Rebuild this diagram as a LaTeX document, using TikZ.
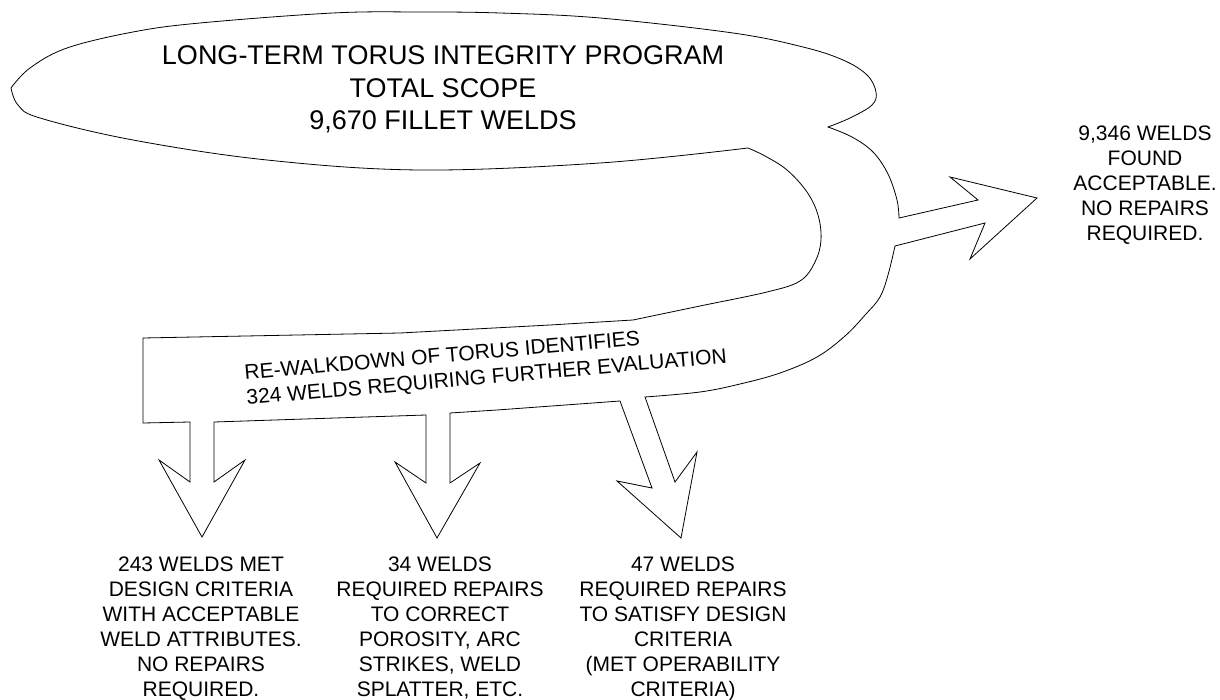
\documentclass[tikz,border=0pt]{standalone}
\usepackage{fontspec}
\setmainfont{Liberation Sans}
\begin{document}
\begin{tikzpicture}[x=1pt,y=-1pt,
  outline/.style={draw=black,line width=0.8pt,line join=miter},
  lbl/.style={align=center,anchor=north,inner sep=0pt,font=\fontsize{21}{25}\selectfont},
  bandtxt/.style={anchor=base west,inner sep=0pt,rotate=5,font=\fontsize{21}{25}\selectfont}]
\useasboundingbox (0,0) rectangle (1220,700);
% one closed outline: ellipse, bent band, right arrow and three down arrows
\draw[outline]
  plot[smooth,tension=0.6] coordinates {(11,88) (30,68) (67,48) (133,32) (200,23) (333,13) (420,12) (500,13) (600,18) (733,33) (803,47) (843,60) (867,75) (876,92) (872,105) (850,118) (828,127)}
  -- plot[smooth,tension=0.6] coordinates {(828,127) (852,137) (873,152) (888,174) (897,200) (899,218)}
  -- (978,200) -- (950,177) -- (1037,198) -- (970,259) -- (985,223) -- (895,246)
  -- plot[smooth,tension=0.6] coordinates {(895,246) (888,275) (880,297) (866,314) (845,336) (817,357) (780,373) (740,384) (700,392) (645,397)}
  -- (675,482) -- (697,452) -- (681,538) -- (617,481) -- (652,488) -- (620,401)
  -- (497,410) -- (450,413)
  -- (450,483) -- (480,463) -- (437,538) -- (395,462) -- (426,483) -- (426,415)
  -- (214,422)
  -- (214,482) -- (245,460) -- (202,537) -- (159,460) -- (190,482) -- (190,422)
  -- (143,423) -- (143,338) -- (400,333) -- (550,325) -- (633,320)
  -- plot[smooth,tension=0.6] coordinates {(633,320) (700,306) (767,292) (800,281) (815,262) (821,240) (818,215) (807,192) (787,170) (765,156) (748,148)}
  -- plot[smooth,tension=0.6] coordinates {(748,148) (600,163) (420,170) (267,160) (133,140) (40,118) (18,105) (11,88)}
  -- cycle;
\node[align=center,anchor=north,inner sep=0pt,font=\fontsize{27}{32.5}\selectfont] (scope) at (443,45.7)
  {LONG-TERM TORUS INTEGRITY PROGRAM\\TOTAL SCOPE\\9,670 FILLET WELDS};
\node[bandtxt] (walk) at (245,380) {RE-WALKDOWN OF TORUS IDENTIFIES};
\node[bandtxt] (eval) at (247,405) {324 WELDS REQUIRING FURTHER EVALUATION};
\node[lbl] (ok) at (1145,126) {9,346 WELDS\\FOUND\\ACCEPTABLE.\\NO REPAIRS\\REQUIRED.};
\node[lbl] (met) at (201,557) {243 WELDS MET\\DESIGN CRITERIA\\WITH ACCEPTABLE\\WELD ATTRIBUTES.\\NO REPAIRS\\REQUIRED.};
\node[lbl] (rep) at (440,557) {34 WELDS\\REQUIRED REPAIRS\\TO CORRECT\\POROSITY, ARC\\STRIKES, WELD\\SPLATTER, ETC.};
\node[lbl] (des) at (683,557) {47 WELDS\\REQUIRED REPAIRS\\TO SATISFY DESIGN\\CRITERIA\\(MET OPERABILITY\\CRITERIA)};
\end{tikzpicture}
\end{document}
